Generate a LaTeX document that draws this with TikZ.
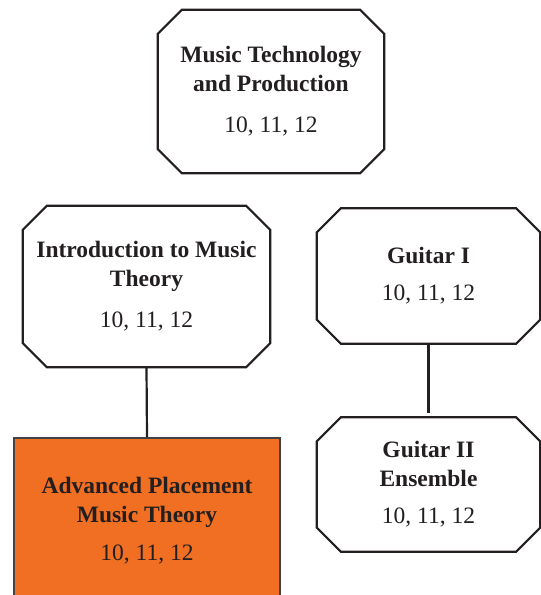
\documentclass[tikz,border=0pt]{standalone}
\usepackage{fontspec}
\setmainfont{Liberation Serif}
\definecolor{ink}{HTML}{231F20}
\definecolor{aporange}{HTML}{F16F22}
\newcommand{\octagon}[1]{%
  \draw[boxline] ([xshift=24pt]#1.north west) -- ([xshift=-24pt]#1.north east)
    -- ([yshift=-24pt]#1.north east) -- ([yshift=24pt]#1.south east)
    -- ([xshift=-24pt]#1.south east) -- ([xshift=24pt]#1.south west)
    -- ([yshift=24pt]#1.south west) -- ([yshift=-24pt]#1.north west) -- cycle;}
\tikzset{
  boxline/.style={draw=ink, line width=2.2pt, line join=miter},
  course/.style={align=center, text=ink, inner sep=0pt,
    font=\fontsize{23.5}{29}\selectfont},
  link/.style={draw=ink, line width=2.2pt},
}
\begin{document}
\begin{tikzpicture}[x=1pt,y=-1pt]
\clip (0,0) rectangle (541,595);
\fill[white] (0,0) rectangle (541,595);
\node[course, minimum width=226, minimum height=163] (mt) at (271,91.5)
  {\textbf{Music Technology}\\\textbf{and Production}\\[12pt]10, 11, 12};
\node[course, minimum width=247, minimum height=161] (intro) at (146.5,286.5)
  {\textbf{Introduction to Music}\\\textbf{Theory}\\[12pt]10, 11, 12};
\node[course, minimum width=223, minimum height=135] (g1) at (428.5,276)
  {\textbf{Guitar I}\\[8pt]10, 11, 12};
\node[course, minimum width=223, minimum height=134] (g2) at (428.5,484.5)
  {\textbf{Guitar II}\\\textbf{Ensemble}\\[8pt]10, 11, 12};
\node[course, minimum width=266, minimum height=165, fill=aporange, draw=ink!85, line width=2.2pt] (ap) at (147,520.5)
  {\textbf{Advanced Placement}\\\textbf{Music Theory}\\[9pt]10, 11, 12};
\octagon{mt}
\octagon{intro}
\octagon{g1}
\octagon{g2}
\draw[link] (intro.south) -- (ap.north);
\draw[link, shorten >=4pt] (g1.south) -- (g2.north);
\end{tikzpicture}
\end{document}
